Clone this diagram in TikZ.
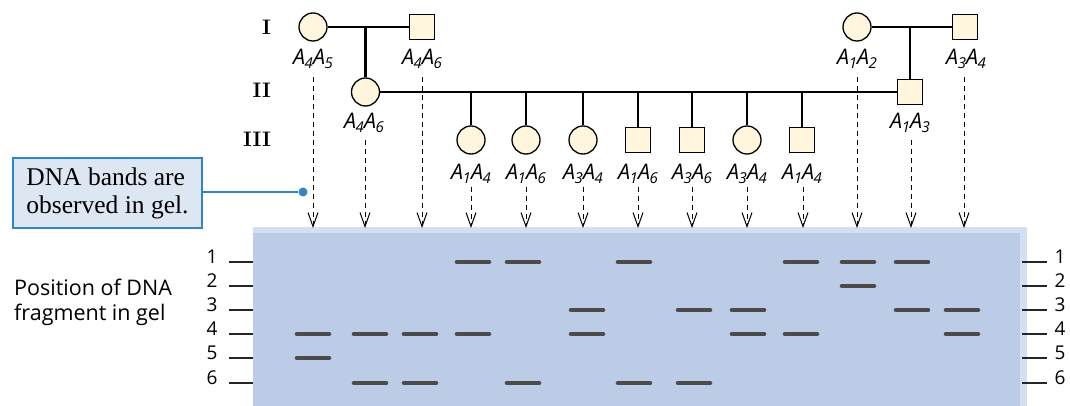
\documentclass[tikz,border=0pt]{standalone}
\usepackage{fontspec}
\setsansfont{Open Sans}
\newfontfamily\calloutfont{Liberation Serif}
\usetikzlibrary{arrows.meta}
\definecolor{cream}{HTML}{FFF6DD}
\definecolor{gelblue}{HTML}{BCCCE6}
\definecolor{gelhi}{HTML}{D4DFF1}
\definecolor{bandgray}{HTML}{4B4B4B}
\definecolor{callfill}{HTML}{DDE6F3}
\definecolor{callline}{HTML}{2E86C8}
\newcommand{\gtyp}[2]{A\kern-0.5pt{\fontsize{15}{18}\selectfont\raisebox{-3.5pt}{#1}}A\kern-0.5pt{\fontsize{15}{18}\selectfont\raisebox{-3.5pt}{#2}}}
\begin{document}
\begin{tikzpicture}[x=1pt,y=-1pt,
  matline/.style={line width=2.6pt},
  fem/.style={circle,draw,line width=1.3pt,fill=cream,minimum size=28pt,inner sep=0pt},
  mal/.style={rectangle,draw,line width=1.3pt,fill=cream,minimum size=24.5pt,inner sep=0pt},
  gtlab/.style={font=\sffamily\itshape\fontsize{21.5}{24}\selectfont,inner sep=0pt,anchor=base},
  gen/.style={font=\bfseries\fontsize{21}{22}\selectfont,inner sep=0pt,anchor=base east},
  probe/.style={line width=1pt,dash pattern=on 5pt off 4pt,-{Straight Barb[length=14pt,width=10pt,line width=1pt]}},
  band/.style={bandgray,line width=4.6pt,line cap=round},
  tick/.style={line width=1.4pt,black!85},
  num/.style={font=\sffamily\fontsize{19}{22}\selectfont,inner sep=0pt,anchor=base},
  callbox/.style={draw=callline,line width=1.4pt,fill=callfill,minimum width=189pt,minimum height=70pt,inner sep=0pt,align=left,font=\calloutfont\fontsize{25.5}{28}\selectfont}
]
\useasboundingbox (0,0) rectangle (1070,406);

% ---------- gel ----------
\fill[gelhi] (253,227) rectangle (1027,406);
\fill[gelblue] (253,233) rectangle (1020,406);

% ---------- generation labels ----------
\node[gen] (gI) at (271,35) {I};
\node[gen] (gII) at (271,98) {II};
\node[gen] (gIII) at (271,147) {III};

% ---------- generation I ----------
\node[fem] (p1) at (313,27) {};
\node[mal] (p2) at (422,27) {};
\node[fem] (p3) at (857,27) {};
\node[mal] (p4) at (965,27) {};
% ---------- generation II ----------
\node[fem] (q1) at (365.5,92) {};
\node[mal] (q2) at (910,92) {};
% ---------- generation III ----------
\node[fem] (c1) at (471,140) {};
\node[fem] (c2) at (526,140) {};
\node[fem] (c3) at (583,140) {};
\node[mal] (c4) at (638,140) {};
\node[mal] (c5) at (692,140) {};
\node[fem] (c6) at (747,140) {};
\node[mal] (c7) at (802,140) {};

% mating and descent lines
\draw[matline] (p1.east) -- (p2.west);
\draw[matline] (p3.east) -- (p4.west);
\coordinate (m1) at (365.5,27);
\coordinate (m2) at (910,27);
\draw[matline] (m1) -- (q1.north);
\draw[matline] (m2) -- (q2.north);
\draw[matline] (q1.east) -- (q2.west);
\foreach \c in {c1,c2,c3,c4,c5,c6,c7}{
  \draw[matline] (\c.north |- q2.center) -- (\c.north);
}

% ---------- genotype labels ----------
\node[gtlab] (l1) at (313,65) {\gtyp{4}{5}};
\node[gtlab] (l3) at (422,65) {\gtyp{4}{6}};
\node[gtlab] (l11) at (857,65) {\gtyp{1}{2}};
\node[gtlab] (l13) at (966,65) {\gtyp{3}{4}};
\node[gtlab] (l2) at (364,129) {\gtyp{4}{6}};
\node[gtlab] (l12) at (910,129) {\gtyp{1}{3}};
\node[gtlab] (l4) at (471,180) {\gtyp{1}{4}};
\node[gtlab] (l5) at (526,180) {\gtyp{1}{6}};
\node[gtlab] (l6) at (583,180) {\gtyp{3}{4}};
\node[gtlab] (l7) at (638,180) {\gtyp{1}{6}};
\node[gtlab] (l8) at (692,180) {\gtyp{3}{6}};
\node[gtlab] (l9) at (747,180) {\gtyp{3}{4}};
\node[gtlab] (l10) at (802,180) {\gtyp{1}{4}};

% ---------- dashed arrows into gel ----------
\foreach \x/\s in {313/77,422/77,857/77,964/77,365/140,911/140,
  471/187,526/187,583/187,638/187,692/187,747/187,803/187}{
  \draw[probe] (\x,\s) -- (\x,228);
}

% ---------- bands ----------
\foreach \x/\ys in {313/{334,358},370/{334,383},420/{334,383},473/{262,334},523/{262,383},
  587/{310,334},634/{262,383},694/{310,383},748/{310,334},801/{262,334},858/{262,286},
  912/{262,310},962/{310,334}}{
  \foreach \y in \ys {\draw[band] (\x-16,\y) -- (\x+16,\y);}
}

% ---------- position ticks ----------
\foreach \i/\y in {1/262,2/286,3/310,4/334,5/358,6/383}{
  \draw[tick] (229,\y) -- (253,\y);
  \draw[tick] (1022,\y) -- (1047,\y);
  \node[num] (nl\i) at (212,\y+1) {\i};
  \node[num] (nr\i) at (1060,\y+1) {\i};
}

\node[font=\sffamily\fontsize{21.5}{25}\selectfont,align=left,anchor=base west,inner sep=0pt] (pos) at (14,320)
  {Position of DNA\\fragment in gel};

% ---------- callout ----------
\node[callbox] (call) at (107.5,193) {DNA bands are\\observed in gel.};
\node[circle,fill=callline,minimum size=9pt,inner sep=0pt] (dot) at (303,192) {};
\draw[callline,line width=2.6pt] (call.east |- dot) -- (dot);
\end{tikzpicture}
\end{document}
